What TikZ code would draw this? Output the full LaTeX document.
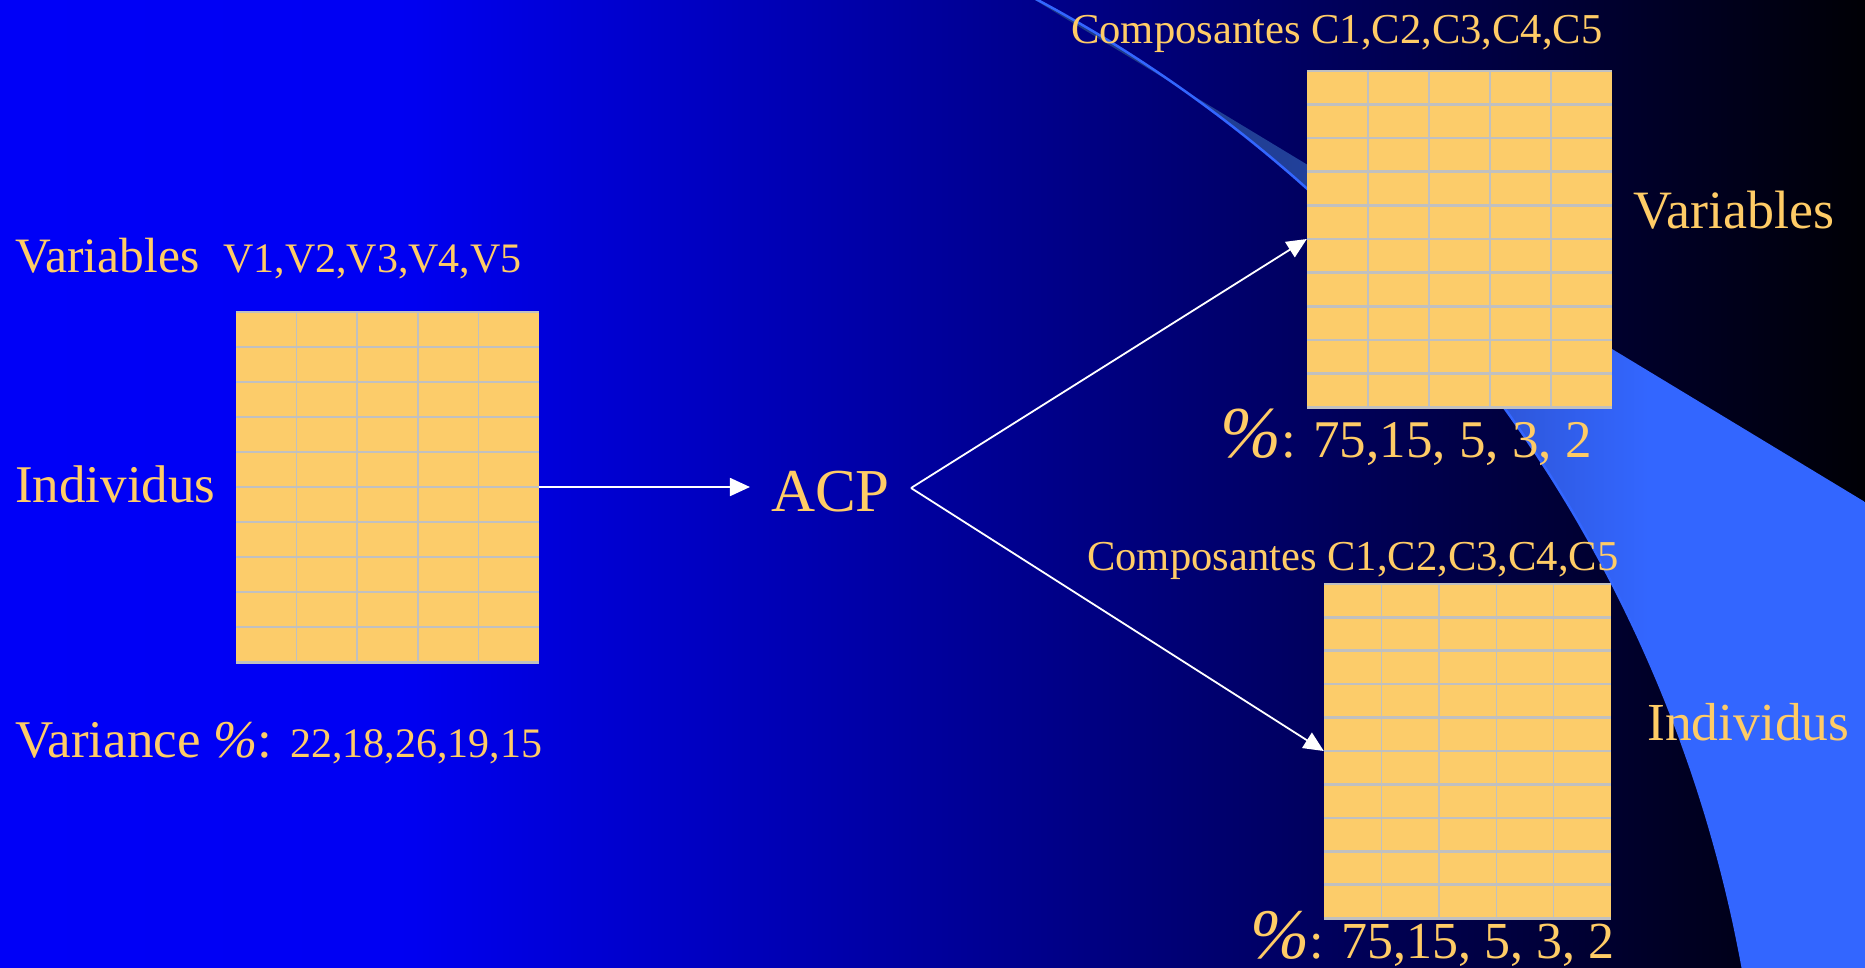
\documentclass[tikz,border=0pt]{standalone}
\usepackage{fontspec}
\setmainfont{Liberation Serif}
\usetikzlibrary{arrows.meta,calc}

\definecolor{txt}{RGB}{255,204,102}
\definecolor{cellfill}{RGB}{252,204,106}
\definecolor{gridc}{RGB}{192,192,192}
\definecolor{bandlight}{RGB}{51,102,255}

\pgfdeclarehorizontalshading{bgshade}{100bp}{rgb(0bp)=(0,0,0.97); rgb(25bp)=(0,0,0.97); rgb(35.7bp)=(0,0,0.95); rgb(75bp)=(0,0,0.02); rgb(100bp)=(0,0,0.02)}
\pgfdeclarehorizontalshading{bandshade}{100bp}{rgb(0bp)=(0.11,0.21,0.5); rgb(30bp)=(0.12,0.23,0.54); rgb(41bp)=(0.13,0.25,0.6); rgb(53bp)=(0.18,0.34,0.85); rgb(62bp)=(0.2,0.4,1); rgb(100bp)=(0.2,0.4,1)}

\tikzset{
  tabbox/.style={fill=cellfill, inner sep=0pt, draw=none},
  hline/.style={draw=gridc, line width=2.6pt},
  vline/.style={draw=gridc, line width=1.5pt},
  conn/.style={draw=white, line width=1.8pt, -{Triangle[length=20pt,width=18pt]}},
  lbl/.style={text=txt, inner sep=0pt, anchor=base west},
}

\newcommand{\gridtab}[5]{%
  \node[tabbox, minimum width=#4pt, minimum height=#5pt] (#1) at (#2,#3) {};
  \foreach \i in {1,...,9} \draw[hline] ($(#1.north west)!{\i/10}!(#1.south west)$) -- ($(#1.north east)!{\i/10}!(#1.south east)$);
  \foreach \j in {1,...,4} \draw[vline] ($(#1.north west)!{\j/5}!(#1.north east)$) -- ($(#1.south west)!{\j/5}!(#1.south east)$);
  \draw[hline] (#1.north west) -- (#1.north east);
  \draw[hline] (#1.south west) -- (#1.south east);
}

\begin{document}
\begin{tikzpicture}[x=1pt, y=-1pt]
\useasboundingbox (0,0) rectangle (1865,967);
% background
\shade[shading=bgshade] (0,0) rectangle (1865,967);
% decorative band (circular arc edge + straight upper edge)
\shade[shading=bandshade] plot[domain=62.2:9.5, samples=80, smooth] ({388+1377*cos(\x)}, {1214-1377*sin(\x)}) -- (1865,990) -- (1865,502) -- (1030,-3) -- cycle;
\draw[bandlight, line width=2.5pt] plot[domain=62.2:9.5, samples=80, smooth] ({388+1377*cos(\x)}, {1214-1377*sin(\x)});

% tables
\gridtab{lt}{387.5}{487}{303}{350}
\gridtab{rt}{1459.5}{239}{305}{336}
\gridtab{rb}{1467.5}{751}{287}{334}

% central node
\node[text=txt, font=\fontsize{61}{70}\selectfont, inner xsep=21pt, inner ysep=0pt, text height=46pt, text depth=0pt, anchor=base] (acp) at (830.5,511) {ACP};

% connectors
\draw[conn] (lt.east) -- (lt.east -| acp.west);
\draw[conn] (acp.east) -- (rt.west);
\draw[conn] (acp.east) -- (rb.west);

% labels
\node[lbl, font=\fontsize{49.5}{58}\selectfont] (vars) at (15,272) {Variables};
\node[lbl, font=\fontsize{42}{50}\selectfont] (vlist) at (223,272) {V1,V2,V3,V4,V5};
\node[lbl, font=\fontsize{53}{64}\selectfont] (indl) at (15,502) {Individus};
\node[lbl] (varc) at (15,757) {\fontsize{53}{64}\selectfont Variance {\itshape\%}: \fontsize{42}{50}\selectfont 22,18,26,19,15};

\node[lbl, font=\fontsize{42.6}{50}\selectfont] (ctop) at (1071,43) {Composantes C1,C2,C3,C4,C5};
\node[lbl, font=\fontsize{54}{62}\selectfont] (varr) at (1633,228) {Variables};
\node[lbl] (ptop) at (1220,457) {{\fontsize{73}{80}\selectfont\itshape\%}{\fontsize{53}{62}\selectfont: 75,15, 5, 3, 2}};

\node[lbl, font=\fontsize{42.6}{50}\selectfont] (cbot) at (1087,570) {Composantes C1,C2,C3,C4,C5};
\node[lbl, font=\fontsize{53.5}{64}\selectfont] (indr) at (1647,740) {Individus};
\node[lbl] (pbot) at (1250,958) {{\fontsize{71}{78}\selectfont\itshape\%}{\fontsize{52}{60}\selectfont: 75,15, 5, 3, 2}};
\end{tikzpicture}
\end{document}
